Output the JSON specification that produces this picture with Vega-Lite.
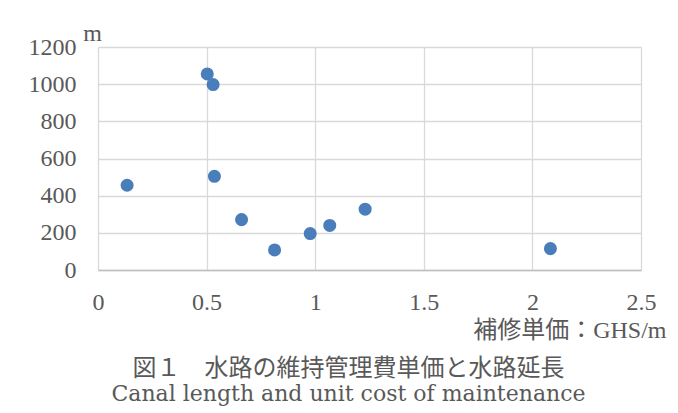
{
  "$schema": "https://vega.github.io/schema/vega-lite/v6.json",
  "width": 543,
  "height": 223,
  "autosize": {"type": "none"},
  "padding": {"left": 98, "top": 47, "right": 37, "bottom": 143},
  "background": "white",
  "title": {
    "text": "図１　水路の維持管理費単価と水路延長",
    "subtitle": "Canal length and unit cost of maintenance",
    "orient": "bottom",
    "anchor": "middle",
    "frame": "group",
    "dx": -21,
    "offset": 15,
    "font": "Noto Sans CJK JP",
    "fontSize": 24,
    "fontWeight": "normal",
    "color": "#595959",
    "subtitleFont": "DejaVu Serif",
    "subtitleFontSize": 22,
    "subtitleColor": "#595959",
    "subtitlePadding": 3
  },
  "data": {
    "values": [
      {"cost": 0.134, "length": 456},
      {"cost": 0.503, "length": 1055},
      {"cost": 0.530, "length": 998},
      {"cost": 0.536, "length": 504},
      {"cost": 0.661, "length": 271},
      {"cost": 0.813, "length": 108},
      {"cost": 0.977, "length": 196},
      {"cost": 1.067, "length": 240},
      {"cost": 1.230, "length": 327},
      {"cost": 2.083, "length": 115}
    ]
  },
  "mark": {"type": "point", "filled": true, "opacity": 1, "color": "#4a7ebb", "size": 170, "shape": "circle"},
  "encoding": {
    "x": {
      "field": "cost",
      "type": "quantitative",
      "scale": {"domain": [0, 2.5], "nice": false, "zero": true},
      "axis": {
        "values": [0, 0.5, 1, 1.5, 2, 2.5],
        "format": "~g",
        "title": "補修単価：GHS/m",
        "titleFont": "Liberation Serif, Noto Sans CJK JP",
        "titleFontSize": 24,
        "titleFontWeight": "normal",
        "titleColor": "#595959",
        "titleAlign": "right",
        "titleAnchor": "end",
        "titleBaseline": "middle",
        "titleX": 568,
        "titleY": 60,
        "labelFont": "Liberation Serif",
        "labelFontSize": 24,
        "labelColor": "#595959",
        "labelPadding": 32,
        "labelBaseline": "middle",
        "labelOverlap": false,
        "labelFlush": false,
        "ticks": false,
        "tickSize": 0,
        "domainColor": "#bfbfbf",
        "domainWidth": 1.5,
        "gridColor": "#d9d9d9",
        "gridWidth": 1.3
      }
    },
    "y": {
      "field": "length",
      "type": "quantitative",
      "scale": {"domain": [0, 1200], "nice": false},
      "axis": {
        "values": [0, 200, 400, 600, 800, 1000, 1200],
        "format": "d",
        "title": "m",
        "titleFont": "Liberation Serif",
        "titleFontSize": 24,
        "titleFontWeight": "normal",
        "titleColor": "#595959",
        "titleAngle": 0,
        "titleAlign": "center",
        "titleBaseline": "alphabetic",
        "titleX": -6,
        "titleY": -7,
        "labelFont": "Liberation Serif",
        "labelFontSize": 24,
        "labelColor": "#595959",
        "labelPadding": 22,
        "labelOverlap": false,
        "labelFlush": false,
        "ticks": false,
        "tickSize": 0,
        "domain": false,
        "gridColor": "#d9d9d9",
        "gridWidth": 1.3
      }
    }
  },
  "config": {
    "view": {"stroke": null}
  }
}
